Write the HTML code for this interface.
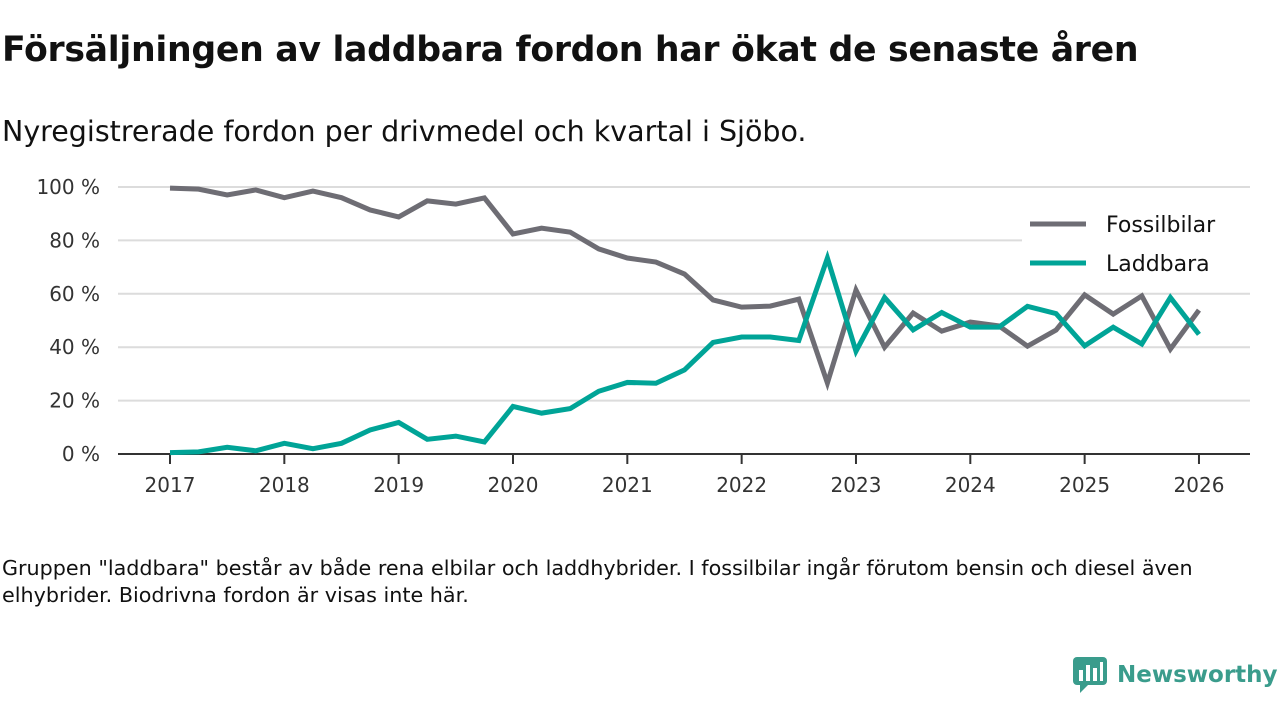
<!DOCTYPE html>
<html><head><meta charset="utf-8"><style>
body{margin:0;width:1280px;height:720px;background:#fff;font-family:"DejaVu Sans","Liberation Sans",sans-serif;color:#111;overflow:hidden;position:relative}
h1{position:absolute;left:2px;top:30px;margin:0;font-size:34.7px;font-weight:bold;letter-spacing:-0.3px}
.sub{position:absolute;left:2px;top:115px;font-size:28.5px}
.foot{position:absolute;left:2px;top:555px;font-size:20.7px;line-height:27px;width:1240px}
.logo{position:absolute;left:1072px;top:656px;display:flex;align-items:center;color:#3a9c8c;font-size:23px;font-weight:bold;white-space:nowrap}
</style></head><body>
<h1>Försäljningen av laddbara fordon har ökat de senaste åren</h1>
<div class="sub">Nyregistrerade fordon per drivmedel och kvartal i Sjöbo.</div>
<svg id="chart" width="1280" height="720" style="position:absolute;left:0;top:0"></svg>
<div class="foot">Gruppen "laddbara" består av både rena elbilar och laddhybrider. I fossilbilar ingår förutom bensin och diesel även elhybrider. Biodrivna fordon är visas inte här.</div>
<div class="logo">
<svg width="36" height="38" viewBox="0 0 36 38"><rect x="1" y="1" width="34" height="28" rx="4" fill="#3a9c8c"/><polygon points="8,29 16,29 8,37" fill="#3a9c8c"/><rect x="7" y="14" width="4" height="11" fill="#fff"/><rect x="14" y="9" width="4" height="16" fill="#fff"/><rect x="21" y="12" width="4" height="13" fill="#fff"/><rect x="28" y="6" width="3" height="19" fill="#fff"/></svg>
<span style="margin-left:9px">Newsworthy</span></div>
<script>
const years=[2017,2018,2019,2020,2021,2022,2023,2024,2025,2026];
const yTicks=[0,20,40,60,80,100];
const fossil=[99.6,99.2,97,98.9,96,98.5,96,91.4,88.8,94.8,93.6,95.9,82.4,84.6,83.1,76.8,73.4,71.9,67.4,57.7,55,55.4,58,26.6,61.4,40,52.8,46,49.4,48,40.4,46.4,59.6,52.4,59.2,39.3,53.9];
const laddbara=[0.5,0.8,2.5,1.2,4,2,4,9,11.8,5.5,6.7,4.5,17.8,15.3,17,23.5,26.8,26.5,31.5,41.8,43.8,43.8,42.5,73.4,38.5,58.6,46.5,53,47.5,47.5,55.3,52.6,40.5,47.5,41.2,58.6,44.8];
const NS="http://www.w3.org/2000/svg",svg=document.getElementById('chart');
const x=t=>170+(t-2017)*114.33, y=v=>454-v*2.67;
function mk(tag,a){const e=document.createElementNS(NS,tag);for(const k in a)e.setAttribute(k,a[k]);svg.appendChild(e);return e;}
yTicks.forEach(v=>{
 if(v>0){const g=mk('line',{x1:118,x2:1250,y1:y(v),y2:y(v),stroke:'#dcdcdc','stroke-width':2});
 
 }
 const t=mk('text',{x:100,y:y(v)+7,'text-anchor':'end','font-size':20,fill:'#333'});t.textContent=v+' %';
 
 
});
const ax=mk('line',{x1:118,x2:1250,y1:454,y2:454,stroke:'#333','stroke-width':2});


years.forEach(yr=>{
 const tk=mk('line',{x1:x(yr),x2:x(yr),y1:454,y2:464,stroke:'#333','stroke-width':2});
 
 
 const t=mk('text',{x:x(yr),y:492,'text-anchor':'middle','font-size':20,fill:'#333'});t.textContent=yr;
 
 
});
function series(d,c,n){const p=mk('polyline',{points:d.map((v,i)=>x(2017+i/4)+','+y(v)).join(' '),fill:'none',stroke:c,'stroke-width':5,'stroke-linejoin':'miter'});
 
 }
series(fossil,'#6e6d74','line-fossilbilar');
series(laddbara,'#00a497','line-laddbara');
const bg=mk('rect',{x:1022,y:206,width:228,height:82,fill:'#fff'});


[['Fossilbilar','#6e6d74',224],['Laddbara','#00a497',263]].forEach(([n,c,yy])=>{
 const l=mk('line',{x1:1030,x2:1086,y1:yy,y2:yy,stroke:c,'stroke-width':5});
 
 
 const t=mk('text',{x:1106,y:yy+8,'font-size':22,fill:'#111'});t.textContent=n;
 
 
});
</script>
</body></html>
